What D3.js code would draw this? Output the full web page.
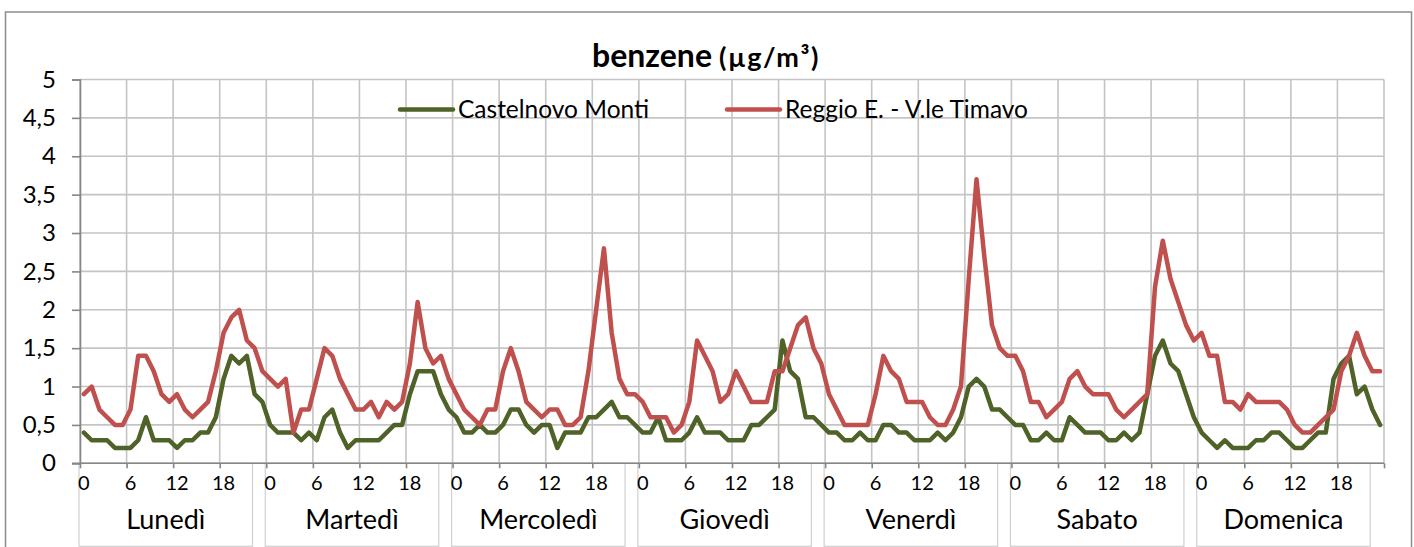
<!DOCTYPE html>
<html>
<head>
<meta charset="utf-8">
<script src="https://cdn.jsdelivr.net/npm/d3@7"></script>
<style>
body { margin: 0; background: #fff; }
text { font-family: Lato, "Open Sans", sans-serif; fill: #000; }
</style>
</head>
<body>
<div id="chart"></div>
<script>
// days and hour ticks of the category axis
var days = ["Lunedì", "Martedì", "Mercoledì", "Giovedì", "Venerdì", "Sabato", "Domenica"]
var hourTicks = [0, 6, 12, 18]
var yTicks = [0, 0.5, 1, 1.5, 2, 2.5, 3, 3.5, 4, 4.5, 5]
var seriesNames = ["Castelnovo Monti", "Reggio E. - V.le Timavo"]

// hourly values, monday 0h -> sunday 23h
var castelnovo = [
    0.4,0.3,0.3,0.3,0.2,0.2,0.2,0.3,0.6,0.3,0.3,0.3,0.2,0.3,0.3,0.4,0.4,0.6,1.1,1.4,1.3,1.4,0.9,0.8,
    0.5,0.4,0.4,0.4,0.3,0.4,0.3,0.6,0.7,0.4,0.2,0.3,0.3,0.3,0.3,0.4,0.5,0.5,0.9,1.2,1.2,1.2,0.9,0.7,
    0.6,0.4,0.4,0.5,0.4,0.4,0.5,0.7,0.7,0.5,0.4,0.5,0.5,0.2,0.4,0.4,0.4,0.6,0.6,0.7,0.8,0.6,0.6,0.5,
    0.4,0.4,0.6,0.3,0.3,0.3,0.4,0.6,0.4,0.4,0.4,0.3,0.3,0.3,0.5,0.5,0.6,0.7,1.6,1.2,1.1,0.6,0.6,0.5,
    0.4,0.4,0.3,0.3,0.4,0.3,0.3,0.5,0.5,0.4,0.4,0.3,0.3,0.3,0.4,0.3,0.4,0.6,1.0,1.1,1.0,0.7,0.7,0.6,
    0.5,0.5,0.3,0.3,0.4,0.3,0.3,0.6,0.5,0.4,0.4,0.4,0.3,0.3,0.4,0.3,0.4,0.9,1.4,1.6,1.3,1.2,0.9,0.6,
    0.4,0.3,0.2,0.3,0.2,0.2,0.2,0.3,0.3,0.4,0.4,0.3,0.2,0.2,0.3,0.4,0.4,1.1,1.3,1.4,0.9,1.0,0.7,0.5
]
var reggio = [
    0.9,1.0,0.7,0.6,0.5,0.5,0.7,1.4,1.4,1.2,0.9,0.8,0.9,0.7,0.6,0.7,0.8,1.2,1.7,1.9,2.0,1.6,1.5,1.2,
    1.1,1.0,1.1,0.4,0.7,0.7,1.1,1.5,1.4,1.1,0.9,0.7,0.7,0.8,0.6,0.8,0.7,0.8,1.3,2.1,1.5,1.3,1.4,1.1,
    0.9,0.7,0.6,0.5,0.7,0.7,1.2,1.5,1.2,0.8,0.7,0.6,0.7,0.7,0.5,0.5,0.6,1.2,2.0,2.8,1.7,1.1,0.9,0.9,
    0.8,0.6,0.6,0.6,0.4,0.5,0.8,1.6,1.4,1.2,0.8,0.9,1.2,1.0,0.8,0.8,0.8,1.2,1.2,1.5,1.8,1.9,1.5,1.3,
    0.9,0.7,0.5,0.5,0.5,0.5,0.9,1.4,1.2,1.1,0.8,0.8,0.8,0.6,0.5,0.5,0.7,1.0,2.4,3.7,2.7,1.8,1.5,1.4,
    1.4,1.2,0.8,0.8,0.6,0.7,0.8,1.1,1.2,1.0,0.9,0.9,0.9,0.7,0.6,0.7,0.8,0.9,2.3,2.9,2.4,2.1,1.8,1.6,
    1.7,1.4,1.4,0.8,0.8,0.7,0.9,0.8,0.8,0.8,0.8,0.7,0.5,0.4,0.4,0.5,0.6,0.7,1.2,1.4,1.7,1.4,1.2,1.2
]
var colors = ["#4f6228", "#c0504d"]

var width = 1414, height = 547
var plot = { left: 80, right: 1384, top: 79.5, bottom: 463.3 }
var nHours = days.length * 24

var svg = d3.select("#chart")
    .append("svg")
    .attr("width", width)
    .attr("height", height)

var x = d3.scaleLinear().domain([0, nHours]).range([plot.left, plot.right])
var y = d3.scaleLinear().domain([0, 5]).range([plot.bottom, plot.top])

// chart border
svg.append("rect")
    .attr("x", 5.5).attr("y", 12)
    .attr("width", 1406).attr("height", 600)
    .attr("fill", "none")
    .attr("stroke", "#8c8c8c")
    .attr("stroke-width", 1.5)

// gridlines
var vLines = []
days.forEach(function (d, di) {
    hourTicks.forEach(function (h) { vLines.push(di * 24 + h) })
})
vLines.push(nHours)

svg.append("g").selectAll("line")
    .data(yTicks)
    .join("line")
    .attr("x1", plot.left).attr("x2", plot.right)
    .attr("y1", function (d) { return y(d) })
    .attr("y2", function (d) { return y(d) })
    .attr("stroke", "#c4c4c4")
    .attr("stroke-width", 1.6)

svg.append("g").selectAll("line")
    .data(vLines)
    .join("line")
    .attr("x1", function (d) { return x(d) })
    .attr("x2", function (d) { return x(d) })
    .attr("y1", plot.top).attr("y2", plot.bottom)
    .attr("stroke", "#c4c4c4")
    .attr("stroke-width", 1.6)

// day label boxes
svg.append("g").selectAll("rect")
    .data(days)
    .join("rect")
    .attr("x", function (d, i) { return x(i * 24) - 1 })
    .attr("y", plot.bottom)
    .attr("width", 173.5)
    .attr("height", 83)
    .attr("fill", "none")
    .attr("stroke", "#d0d0d0")
    .attr("stroke-width", 1.2)

// y axis
var yAxis = d3.axisLeft(y)
    .tickValues(yTicks)
    .tickSize(8)
    .tickPadding(16)
    .tickFormat(function (d) { return String(d).replace(".", ",") })

var gy = svg.append("g")
    .attr("transform", "translate(" + plot.left + ",0)")
    .call(yAxis)
gy.select(".domain").attr("stroke", "#868686").attr("stroke-width", 1.6)
gy.selectAll(".tick line").attr("stroke", "#868686").attr("stroke-width", 1.6)
gy.selectAll(".tick text")
    .style("font-family", "Lato, 'Open Sans', sans-serif")
    .style("font-size", "24px")
    .attr("fill", "#000")

// x axis (ticks only, labels drawn below)
var xAxis = d3.axisBottom(x)
    .tickValues(vLines)
    .tickSize(5)
    .tickSizeOuter(0)
    .tickFormat("")

var gx = svg.append("g")
    .attr("transform", "translate(0," + plot.bottom + ")")
    .call(xAxis)
gx.select(".domain").attr("stroke", "#868686").attr("stroke-width", 1.6)
    .attr("d", "M" + (plot.left - 8) + ",0H" + plot.right)
gx.selectAll(".tick line").attr("stroke", "#868686").attr("stroke-width", 1.6)

var hourLabels = []
days.forEach(function (d, di) {
    hourTicks.forEach(function (h) { hourLabels.push({ i: di * 24 + h, label: h }) })
})

svg.append("g").selectAll("text")
    .data(hourLabels)
    .join("text")
    .attr("x", function (d) { return x(d.i + 0.5) })
    .attr("y", 490)
    .attr("text-anchor", "middle")
    .style("font-size", "20px")
    .text(function (d) { return d.label })

svg.append("g").selectAll("text")
    .data(days)
    .join("text")
    .attr("x", function (d, i) { return x(i * 24) - 1 + 173.5 / 2 })
    .attr("y", 529)
    .attr("text-anchor", "middle")
    .style("font-size", "27px")
    .text(function (d) { return d })

// lines
var line = d3.line()
    .x(function (d, i) { return x(i + 0.5) })
    .y(function (d) { return y(d) })

;[castelnovo, reggio].forEach(function (s, k) {
    svg.append("path")
        .datum(s)
        .attr("fill", "none")
        .attr("stroke", colors[k])
        .attr("stroke-width", 4.5)
        .attr("stroke-linejoin", "round")
        .attr("stroke-linecap", "round")
        .attr("d", line)
})

// title
svg.append("text")
    .attr("x", 712).attr("y", 67)
    .attr("text-anchor", "end")
    .style("font-size", "32px")
    .style("font-weight", "bold")
    .text("benzene")
svg.append("text")
    .attr("x", 719).attr("y", 67)
    .style("font-size", "27px")
    .style("font-weight", "bold")
    .style("letter-spacing", "1.5px")
    .text("(µg/m³)")

// legend
var legendX = [400, 727]
seriesNames.forEach(function (name, k) {
    svg.append("line")
        .attr("x1", legendX[k]).attr("x2", legendX[k] + 53)
        .attr("y1", 109.5).attr("y2", 109.5)
        .attr("stroke", colors[k])
        .attr("stroke-width", 4.5)
        .attr("stroke-linecap", "round")
    svg.append("text")
        .attr("x", legendX[k] + 58).attr("y", 117.5)
        .style("font-size", "24.5px")
        .text(name)
})
</script>
</body>
</html>
